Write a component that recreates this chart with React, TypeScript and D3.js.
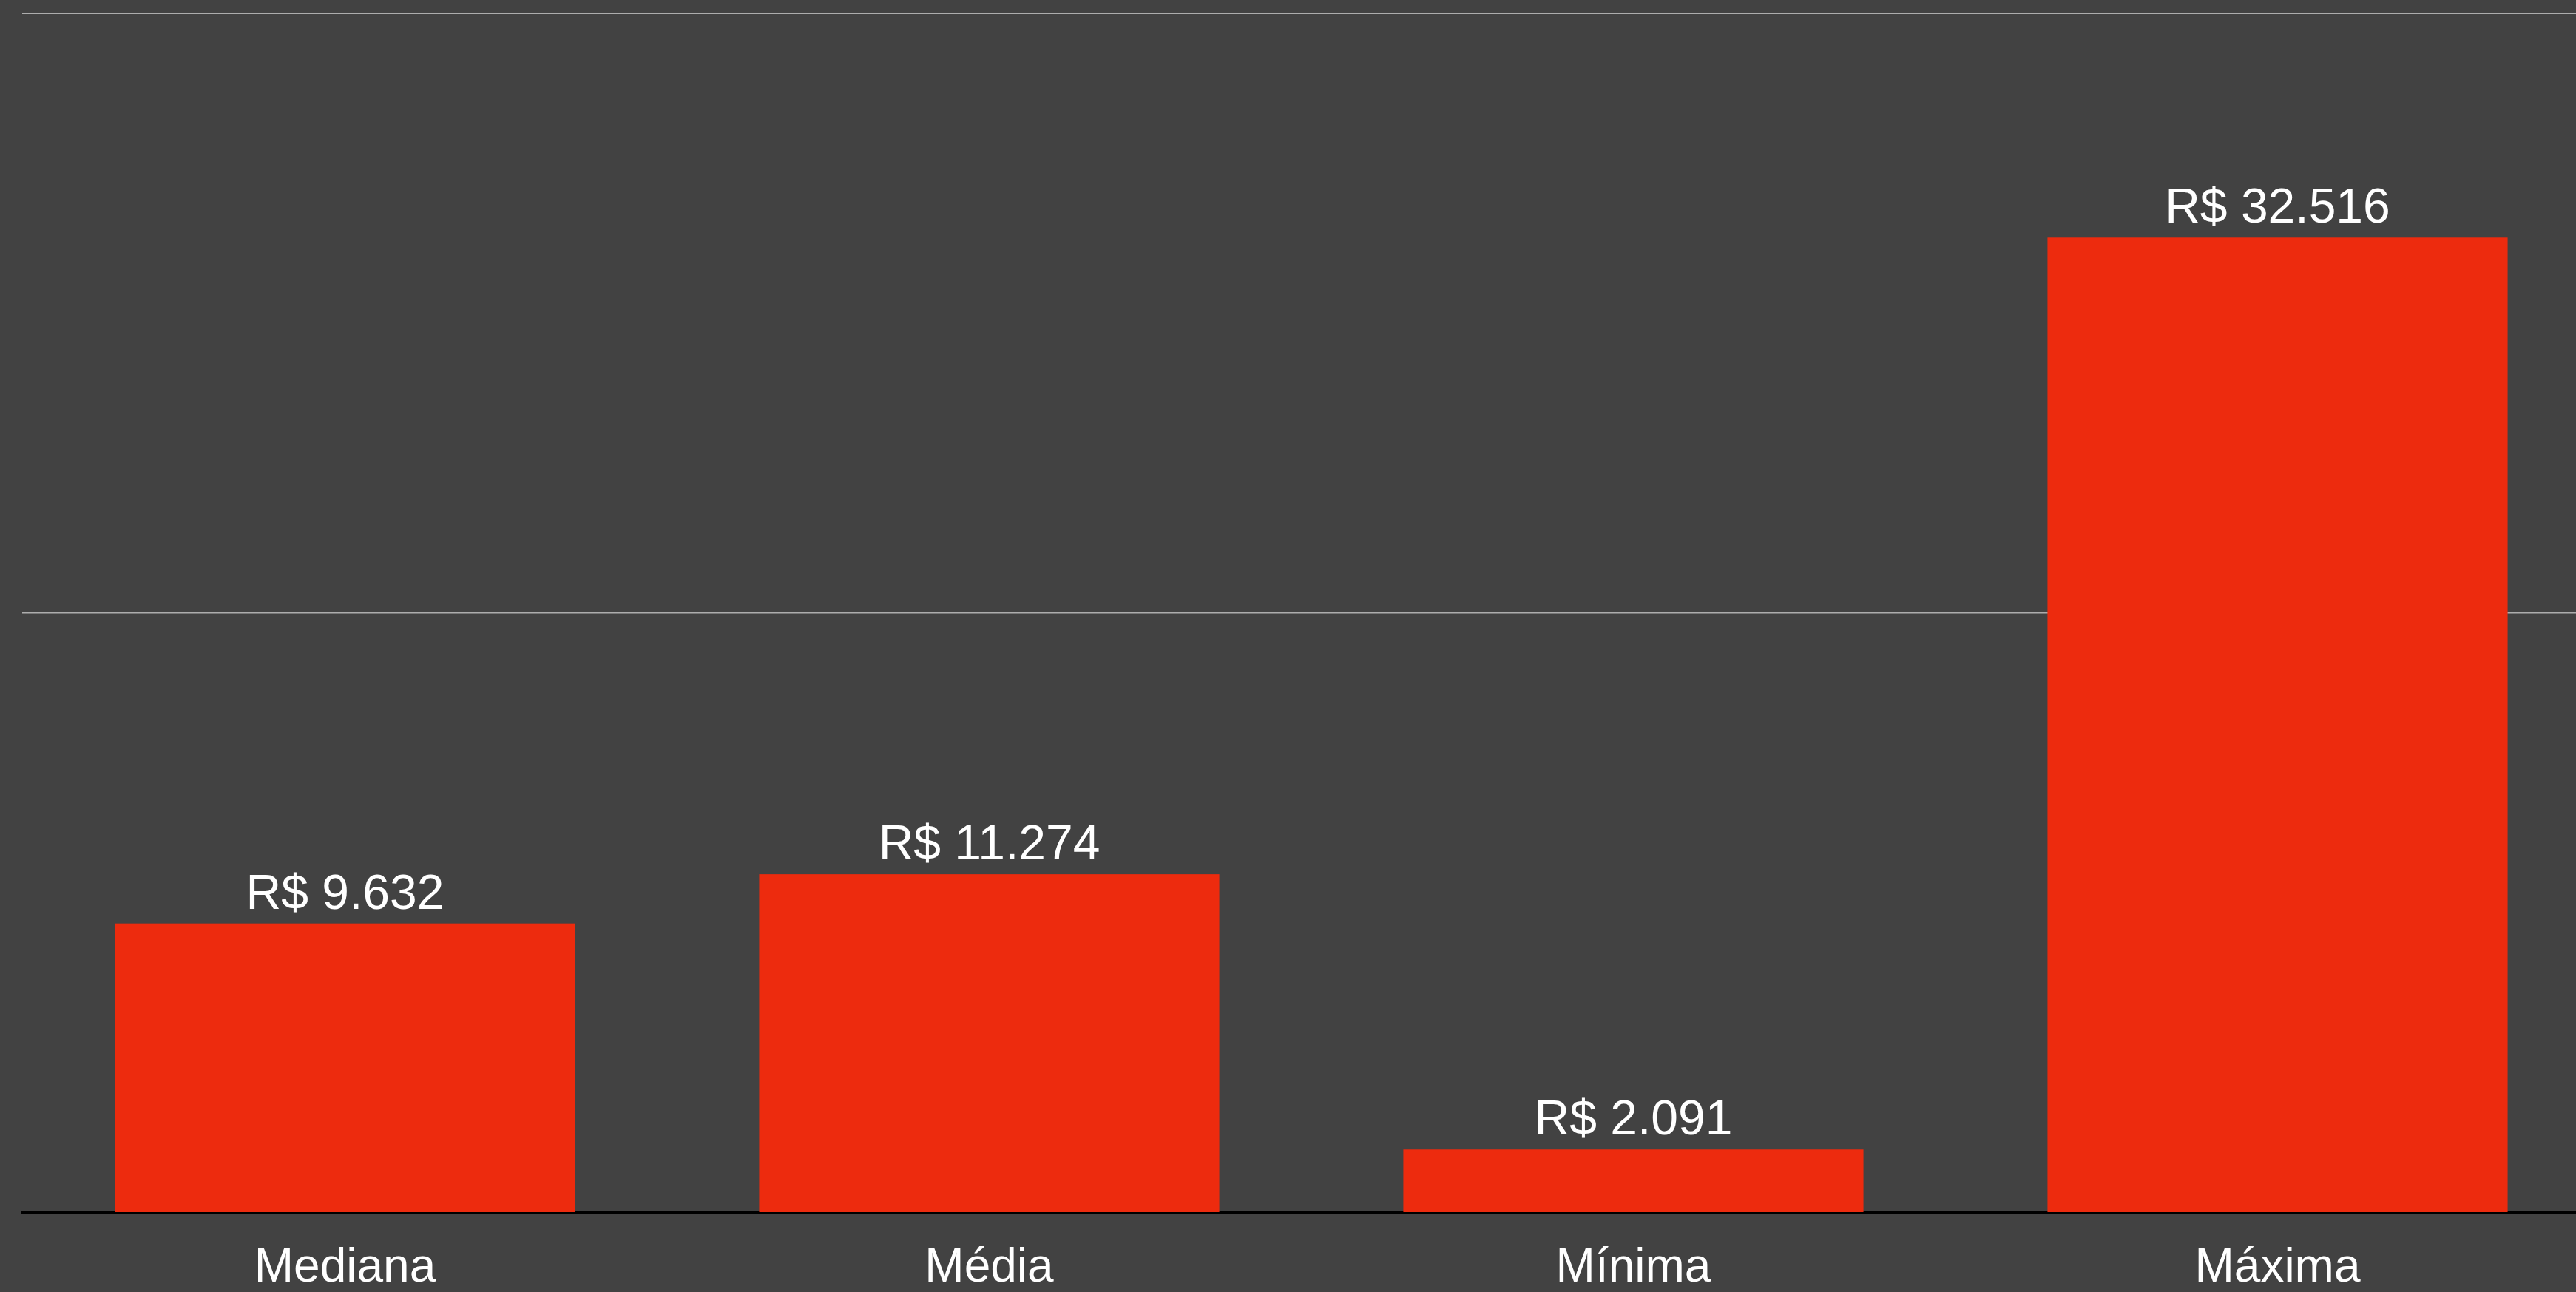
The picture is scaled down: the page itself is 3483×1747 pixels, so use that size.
import React from "react";
import * as d3 from "d3";

const categories = ["Mediana", "Média", "Mínima", "Máxima"];
const values = [9632, 11274, 2091, 32516];
const valueLabels = ["R$ 9.632", "R$ 11.274", "R$ 2.091", "R$ 32.516"];
const gridTicks = [20000, 40000];

const W = 3483;
const H = 1747;
const FONT = "'Liberation Sans', Arial, Helvetica, sans-serif";

export default function App() {
  const x = d3
    .scaleBand<string>()
    .domain(categories)
    .range([31, 31 + 4 * 871])
    .paddingInner(2 / 7)
    .paddingOuter(1 / 7);
  const y = d3.scaleLinear().domain([0, 40000]).range([1639, 18]);

  return (
    <svg
      width={W}
      height={H}
      style={{ position: "absolute", left: 0, top: 0, display: "block" }}
    >
      <rect x={0} y={0} width={W} height={H} fill="#424242" />
      {gridTicks.map((t) => (
        <line
          key={t}
          x1={30}
          x2={W}
          y1={y(t)}
          y2={y(t)}
          stroke="#adadad"
          strokeWidth={2}
        />
      ))}
      <line x1={28} x2={W} y1={y(0) + 0.5} y2={y(0) + 0.5} stroke="#000" strokeWidth={3} />
      {categories.map((c, i) => (
        <rect
          key={c}
          x={x(c)!}
          y={y(values[i])}
          width={x.bandwidth()}
          height={y(0) - y(values[i])}
          fill="#ED2B0E"
        />
      ))}
      {categories.map((c, i) => (
        <text
          key={"v" + c}
          x={x(c)! + x.bandwidth() / 2}
          y={y(values[i]) - 20}
          textAnchor="middle"
          fill="#fff"
          fontFamily={FONT}
          fontSize={66}
        >
          {valueLabels[i]}
        </text>
      ))}
      {categories.map((c) => (
        <text
          key={"c" + c}
          x={x(c)! + x.bandwidth() / 2}
          y={1733}
          textAnchor="middle"
          fill="#fff"
          fontFamily={FONT}
          fontSize={64}
        >
          {c}
        </text>
      ))}
    </svg>
  );
}
